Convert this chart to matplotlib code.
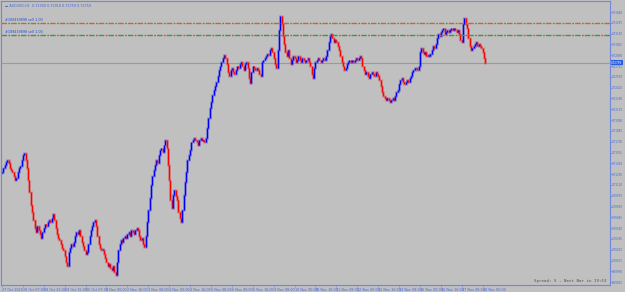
import matplotlib
matplotlib.use("Agg")
import matplotlib.pyplot as plt

# hourly closes, AUDUSD H1, 27 Oct - 18 Nov 2020
closes = [
    0.7129, 0.7135, 0.7139, 0.7143, 0.7145, 0.7141, 0.7135, 0.7132, 0.7129, 0.7124, 0.7118, 0.7121, 0.7129, 0.7135, 0.7137, 0.7145,
    0.7152, 0.7155, 0.7145, 0.7135, 0.7118, 0.7102, 0.7085, 0.7076, 0.7065, 0.7054, 0.7049, 0.7057, 0.7051, 0.7046, 0.7041, 0.7049,
    0.7054, 0.7059, 0.7057, 0.7062, 0.7065, 0.7062, 0.7067, 0.7073, 0.7065, 0.7054, 0.7046, 0.7041, 0.7038, 0.7033, 0.7027, 0.7025,
    0.7016, 0.7008, 0.7003, 0.7022, 0.7027, 0.7033, 0.7030, 0.7035, 0.7043, 0.7049, 0.7046, 0.7051, 0.7043, 0.7035, 0.7030, 0.7025,
    0.7019, 0.7022, 0.7033, 0.7043, 0.7051, 0.7057, 0.7062, 0.7065, 0.7057, 0.7043, 0.7033, 0.7027, 0.7025, 0.7025, 0.7019, 0.7014,
    0.7008, 0.7003, 0.7006, 0.7000, 0.6998, 0.7003, 0.6995, 0.6991, 0.7008, 0.7025, 0.7033, 0.7038, 0.7035, 0.7041, 0.7043, 0.7041,
    0.7046, 0.7049, 0.7043, 0.7051, 0.7049, 0.7046, 0.7051, 0.7054, 0.7051, 0.7043, 0.7038, 0.7041, 0.7033, 0.7029, 0.7043, 0.7062,
    0.7078, 0.7094, 0.7112, 0.7124, 0.7132, 0.7139, 0.7145, 0.7141, 0.7152, 0.7159, 0.7161, 0.7156, 0.7165, 0.7172, 0.7161, 0.7139,
    0.7118, 0.7092, 0.7081, 0.7098, 0.7105, 0.7097, 0.7092, 0.7076, 0.7067, 0.7062, 0.7078, 0.7098, 0.7116, 0.7129, 0.7145, 0.7152,
    0.7159, 0.7169, 0.7172, 0.7175, 0.7172, 0.7169, 0.7165, 0.7172, 0.7175, 0.7172, 0.7172, 0.7169, 0.7175, 0.7188, 0.7202, 0.7215,
    0.7223, 0.7233, 0.7239, 0.7245, 0.7250, 0.7258, 0.7266, 0.7271, 0.7277, 0.7282, 0.7286, 0.7282, 0.7274, 0.7263, 0.7258, 0.7266,
    0.7269, 0.7263, 0.7261, 0.7266, 0.7271, 0.7269, 0.7274, 0.7277, 0.7271, 0.7266, 0.7274, 0.7277, 0.7269, 0.7255, 0.7249, 0.7263,
    0.7271, 0.7269, 0.7266, 0.7269, 0.7266, 0.7261, 0.7258, 0.7277, 0.7279, 0.7282, 0.7285, 0.7288, 0.7286, 0.7293, 0.7296, 0.7290,
    0.7282, 0.7274, 0.7269, 0.7293, 0.7320, 0.7339, 0.7328, 0.7312, 0.7301, 0.7290, 0.7285, 0.7293, 0.7282, 0.7274, 0.7279, 0.7285,
    0.7282, 0.7277, 0.7279, 0.7285, 0.7279, 0.7277, 0.7282, 0.7279, 0.7277, 0.7279, 0.7282, 0.7277, 0.7271, 0.7261, 0.7255, 0.7269,
    0.7277, 0.7279, 0.7282, 0.7279, 0.7277, 0.7279, 0.7282, 0.7279, 0.7285, 0.7293, 0.7304, 0.7312, 0.7314, 0.7309, 0.7304, 0.7306,
    0.7304, 0.7298, 0.7293, 0.7285, 0.7277, 0.7271, 0.7266, 0.7269, 0.7274, 0.7277, 0.7279, 0.7277, 0.7279, 0.7277, 0.7279, 0.7282,
    0.7279, 0.7282, 0.7285, 0.7282, 0.7271, 0.7266, 0.7261, 0.7263, 0.7258, 0.7255, 0.7261, 0.7263, 0.7261, 0.7258, 0.7263, 0.7261,
    0.7258, 0.7253, 0.7245, 0.7237, 0.7231, 0.7229, 0.7226, 0.7229, 0.7226, 0.7223, 0.7226, 0.7229, 0.7226, 0.7231, 0.7237, 0.7239,
    0.7247, 0.7253, 0.7255, 0.7250, 0.7247, 0.7250, 0.7253, 0.7250, 0.7255, 0.7258, 0.7263, 0.7266, 0.7269, 0.7269, 0.7266, 0.7271,
    0.7290, 0.7296, 0.7290, 0.7288, 0.7290, 0.7285, 0.7286, 0.7285, 0.7288, 0.7293, 0.7298, 0.7296, 0.7301, 0.7309, 0.7314, 0.7312,
    0.7317, 0.7320, 0.7322, 0.7314, 0.7317, 0.7320, 0.7317, 0.7320, 0.7322, 0.7320, 0.7322, 0.7320, 0.7317, 0.7320, 0.7314, 0.7306,
    0.7304, 0.7328, 0.7336, 0.7328, 0.7322, 0.7309, 0.7298, 0.7293, 0.7296, 0.7298, 0.7301, 0.7304, 0.7298, 0.7301, 0.7298, 0.7296,
    0.7290, 0.7282, 0.72759,
]

time_labels = [
    "27 Oct 2020", "28 Oct 07:00", "28 Oct 23:00", "29 Oct 15:00", "30 Oct 07:00", "2 Nov 00:00",
    "2 Nov 16:00", "3 Nov 08:00", "4 Nov 00:00", "4 Nov 16:00", "5 Nov 08:00", "6 Nov 00:00",
    "6 Nov 16:00", "9 Nov 08:00", "10 Nov 00:00", "10 Nov 16:00", "11 Nov 08:00", "12 Nov 00:00",
    "12 Nov 16:00", "13 Nov 08:00", "16 Nov 00:00", "16 Nov 16:00", "17 Nov 08:00", "18 Nov 00:00",
]
BARS_PER_LABEL = 16

price_labels = [round(0.73440 - k * 0.00145, 5) for k in range(26)]

order_levels = [0.73291, 0.73131]
order_texts = ["#189439898 sell 1.00", "#189439898 sell 1.00"]
last_price = 0.72759
title_text = "AUDUSD,H1  0.72900 0.72918 0.72759 0.72759"
status_text = "Spread: 5 , Next Bar in 19:53"

BG = "#c0c0c0"
AXIS = "#7088dc"
LBL = "#4868d8"
FS = 2.4
YFS = 2.0

fig = plt.figure(figsize=(6.25, 2.92), dpi=100, facecolor=BG)
ax = fig.add_axes([0.0016, 1 - 285 / 292, 609 / 625, 284 / 292])
ax.set_facecolor(BG)

opens = [closes[0]] + closes[:-1]
for i, (o, c) in enumerate(zip(opens, closes)):
    col = "#0000ff" if c >= o else "#ff0000"
    lo, hi = min(o, c), max(o, c)
    if hi - lo < 0.00008:
        hi += 0.00005
        lo -= 0.00005
    ax.vlines(i, lo - 0.00012, hi + 0.00012, color=col, lw=2.0, alpha=0.28)
    ax.vlines(i, lo, hi, color=col, lw=0.9)

# current price line
ax.axhline(last_price, color="#9a9a9a", lw=0.8, zorder=1)

# order lines, dash-dot in two colours
line_cols = [("#d0642c", "#3c9a3c"), ("#3c9a3c", "#d04a3a")]
for lvl, txt, (c1, c2) in zip(order_levels, order_texts, line_cols):
    ax.axhline(lvl, color=c1, lw=1.0, linestyle=(0, (4, 3)))
    ax.axhline(lvl, color=c2, lw=1.0, linestyle=(-5, (1.2, 5.8)))
    ax.text(2, lvl + 0.00012, txt, fontsize=FS, color="#1f4fe0", va="bottom", ha="left")

ax.set_xlim(-0.77, 465.5)
ax.set_ylim(0.69777, 0.73588)

ax.yaxis.tick_right()
ax.set_yticks(price_labels)
ax.set_yticklabels([f"{p:.5f}" for p in price_labels], fontsize=YFS, color=LBL)
ax.tick_params(axis="y", length=1.2, width=0.5, color=AXIS, pad=0.4)

xt = [k * BARS_PER_LABEL for k in range(len(time_labels))]
ax.set_xticks(xt)
ax.set_xticklabels(time_labels, fontsize=FS, color=LBL, ha="left")
ax.tick_params(axis="x", length=1.5, width=0.5, color=AXIS, pad=0.5)

for s in ax.spines.values():
    s.set_color(AXIS)
    s.set_linewidth(0.8)

# price box on the right axis
ax.text(1.002, last_price, f"{last_price:.5f}", transform=ax.get_yaxis_transform(),
        fontsize=YFS, color="white", va="center", ha="left",
        bbox=dict(boxstyle="square,pad=0.2", fc="#2a5ee0", ec="none"), clip_on=False)

ax.text(0.006, 0.988, "\u25ac " + title_text, transform=ax.transAxes, fontsize=FS,
        color=LBL, va="top", ha="left")
ax.text(0.995, 0.006, status_text, transform=ax.transAxes, fontsize=3.0,
        color="#505050", va="bottom", ha="right", family="DejaVu Sans Mono")

fig.savefig("out.png", dpi=100, facecolor=BG)
